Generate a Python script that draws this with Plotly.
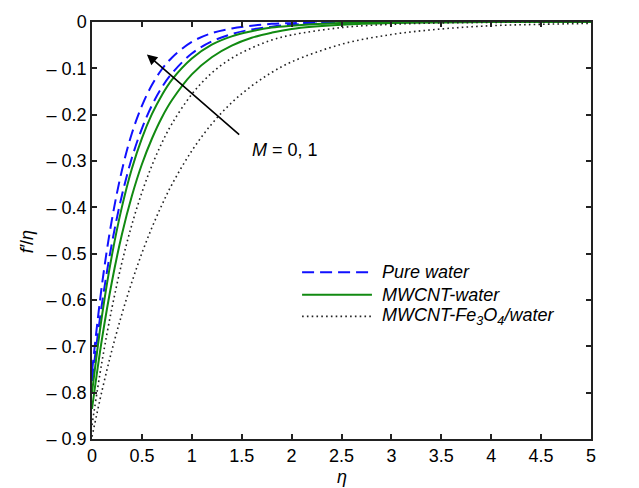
import plotly.graph_objects as go

# Similarity variable
eta = [0, 0.1, 0.2, 0.3, 0.4, 0.5, 0.6, 0.7, 0.8, 1.0, 1.2, 1.4, 1.6, 1.8,
       2.0, 2.5, 3.0, 3.5, 4.0, 4.5, 5.0]

# Velocity profiles f'(eta) for M = 0 and M = 1
pure_water_m0 = [-0.755, -0.567, -0.426, -0.320, -0.240, -0.181, -0.136, -0.102, -0.077,
                 -0.043, -0.024, -0.014, -0.008, -0.004, -0.0025, -0.0005, 0, 0, 0, 0, 0]
pure_water_m1 = [-0.775, -0.608, -0.477, -0.374, -0.293, -0.230, -0.180, -0.141, -0.111,
                 -0.068, -0.042, -0.026, -0.016, -0.010, -0.006, -0.0018, -0.0005, 0, 0, 0, 0]
mwcnt_m0 = [-0.800, -0.634, -0.503, -0.399, -0.316, -0.251, -0.199, -0.158, -0.125,
            -0.079, -0.049, -0.031, -0.020, -0.012, -0.008, -0.002, -0.001, 0, 0, 0, 0]
mwcnt_m1 = [-0.835, -0.684, -0.560, -0.458, -0.375, -0.307, -0.252, -0.206, -0.169,
            -0.113, -0.076, -0.051, -0.034, -0.023, -0.015, -0.006, -0.002, -0.001, 0, 0, 0]
hybrid_m0 = [-0.870, -0.733, -0.617, -0.519, -0.437, -0.368, -0.310, -0.261, -0.220,
             -0.156, -0.110, -0.078, -0.056, -0.039, -0.028, -0.012, -0.005, -0.002, -0.001, 0, 0]
hybrid_m1 = [-0.895, -0.796, -0.708, -0.630, -0.561, -0.499, -0.444, -0.395, -0.351,
             -0.278, -0.220, -0.174, -0.138, -0.109, -0.086, -0.048, -0.027, -0.015, -0.008,
             -0.005, -0.003]

x_ticks = [0, 0.5, 1, 1.5, 2, 2.5, 3, 3.5, 4, 4.5, 5]
x_tick_text = ["0", "0.5", "1", "1.5", "2", "2.5", "3", "3.5", "4", "4.5", "5"]
y_ticks = [-0.9, -0.8, -0.7, -0.6, -0.5, -0.4, -0.3, -0.2, -0.1, 0]
y_tick_text = ["\u2013 0.9", "\u2013 0.8", "\u2013 0.7", "\u2013 0.6", "\u2013 0.5",
               "\u2013 0.4", "\u2013 0.3", "\u2013 0.2", "\u2013 0.1", "0"]

legend_labels = ["<i>Pure water</i>", "<i>MWCNT-water</i>",
                 "<i>MWCNT-Fe<sub>3</sub>O<sub>4</sub>/water</i>"]

BLUE = "#1010ff"
GREEN = "#118a11"
BLACK = "#222222"
styles = [
    dict(color=BLUE, width=2, dash="12px,6px"),
    dict(color=GREEN, width=2, dash="solid"),
    dict(color=BLACK, width=1.6, dash="1.6px,3.2px"),
]

FONT = "Liberation Sans, Arial, Helvetica, sans-serif"
FS = 18

fig = go.Figure()
groups = [(pure_water_m0, pure_water_m1), (mwcnt_m0, mwcnt_m1), (hybrid_m0, hybrid_m1)]
for (m0, m1), st, name in zip(groups, styles, legend_labels):
    for ys in (m0, m1):
        fig.add_trace(go.Scatter(x=eta, y=ys, mode="lines", line=dict(shape="spline", **st),
                                 name=name, showlegend=False, hoverinfo="skip"))

# Legend drawn in the lower-right part of the axes
legend_rows = [0.400, 0.346, 0.294]
for st, label, yp in zip(styles, legend_labels, legend_rows):
    fig.add_shape(type="line", xref="paper", yref="paper", x0=0.421, x1=0.561, y0=yp, y1=yp,
                  line=st)
    fig.add_annotation(xref="paper", yref="paper", x=0.577, y=yp, text=label, showarrow=False,
                       xanchor="left", yanchor="middle", font=dict(family=FONT, size=FS, color="black"))

# Arrow showing the effect of M
fig.add_annotation(x=0.55, y=-0.070, ax=1.49, ay=-0.246, xref="x", yref="y", axref="x", ayref="y",
                   text="", showarrow=True, arrowhead=2, arrowsize=1.3, arrowwidth=1.6,
                   arrowcolor="black")
fig.add_annotation(x=1.585, y=-0.277, xref="x", yref="y", text="<i>M</i> = 0, 1", showarrow=False,
                   xanchor="left", yanchor="middle", font=dict(family=FONT, size=FS, color="black"))

# Axis titles
fig.add_annotation(xref="paper", yref="paper", x=-0.130, y=0.472, text="<i>f\u2032</i>/<i>\u03b7</i>",
                   textangle=-90, showarrow=False, xanchor="center", yanchor="middle",
                   font=dict(family=FONT, size=FS, color="black"))
fig.add_annotation(xref="paper", yref="paper", x=0.5, y=-0.092, text="<i>\u03b7</i>",
                   showarrow=False, xanchor="center", yanchor="middle",
                   font=dict(family=FONT, size=FS, color="black"))

axis_common = dict(showline=True, linecolor="#222222", linewidth=1.5, mirror="allticks",
                   ticks="inside", ticklen=5, tickwidth=1.5, tickcolor="#222222",
                   showgrid=False, zeroline=False,
                   tickfont=dict(family=FONT, size=FS, color="black"))
fig.update_xaxes(range=[0, 5], tickvals=x_ticks, ticktext=x_tick_text, **axis_common)
fig.update_yaxes(range=[-0.9, 0], tickvals=y_ticks, ticktext=y_tick_text, **axis_common)

fig.update_layout(width=639, height=488, margin=dict(l=92, r=48, t=17, b=49),
                  paper_bgcolor="white", plot_bgcolor="white", showlegend=False)

fig.write_html("out.html")
